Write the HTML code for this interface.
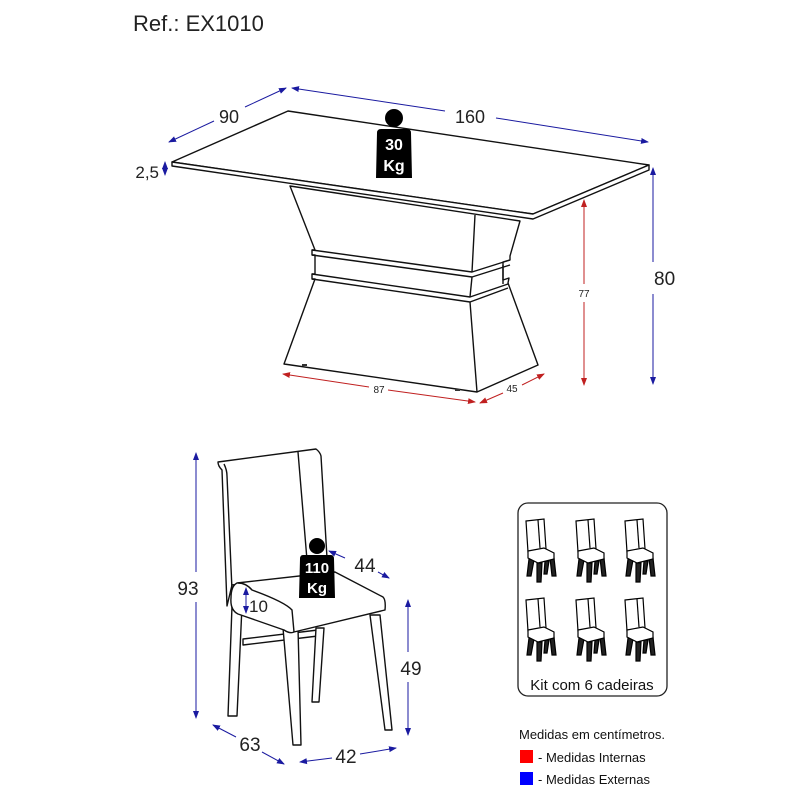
<!DOCTYPE html>
<html><head><meta charset="utf-8"><style>
html,body{margin:0;padding:0;background:#fff;}
svg{display:block;font-family:"Liberation Sans",sans-serif;}
</style></head><body>
<svg width="800" height="800" viewBox="0 0 800 800" xmlns="http://www.w3.org/2000/svg">
<defs>
<marker id="ab" markerWidth="8" markerHeight="8" refX="7" refY="4" orient="auto-start-reverse" markerUnits="userSpaceOnUse"><path d="M0,1 L8,4 L0,7 Z" fill="#1a1aa0"/></marker>
<marker id="ar" markerWidth="8" markerHeight="8" refX="7" refY="4" orient="auto-start-reverse" markerUnits="userSpaceOnUse"><path d="M0,1 L8,4 L0,7 Z" fill="#c02020"/></marker>
<g id="mc" fill="#fff" stroke="#000" stroke-width="1.2">
<path d="M2,2 L20,0 L22,30 L4,33 Z"/>
<path d="M14,1 L16,29"/>
<path d="M5,40 L3,57 L7,57 L10,41 Z" fill="#222"/>
<path d="M13,44 L13,63 L17,63 L18,44 Z" fill="#222"/>
<path d="M26,39 L28,57 L32,57 L30,39 Z" fill="#222"/>
<path d="M21,42 L20,55 L23,55 L25,42 Z" fill="#222"/>
<path d="M4,32 L20,29 L30,34 L30,40 L14,44 L4,39 Z"/>
</g>
</defs>
<text x="133" y="31" font-size="22" fill="#222">Ref.: EX1010</text>

<!-- TABLE -->
<g fill="#fff" stroke="#111" stroke-width="1.4" stroke-linejoin="round">
<path d="M290,186 L315,250 L312,250 L312,255 L315,255 L315,274 L312,274 L312,279 L315,279 L284,364 L477,392 L538,365 L508,283 L509,278 L503,280 L503,262 L510,260 L510,256 L520,221 Z"/>
<path d="M312,250 L472,272 L510,260 M312,255 L472,277 L510,265 M312,274 L470,297 L508,284 M312,279 L470,302 L508,288" fill="none"/>
<path d="M475,215 L472,272 M472,277 L470,297 M503,265 L503,284 M470,302 L477,392" fill="none"/>
<path d="M172,162 L288,111 L649,165 L533,214 Z"/>
<path d="M172,162 L172,166 L533,219 L649,170 L649,165 L533,214 Z"/>
</g>
<g fill="#333"><rect x="302" y="364" width="5" height="2"/><rect x="455" y="389" width="5" height="2"/></g>
<!-- table dims -->
<g stroke="#1a1aa0" stroke-width="1" fill="none">
<line x1="169" y1="142" x2="214" y2="121" marker-start="url(#ab)"/>
<line x1="245" y1="107" x2="286" y2="88" marker-end="url(#ab)"/>
<line x1="292" y1="88" x2="445" y2="111" marker-start="url(#ab)"/>
<line x1="496" y1="118" x2="648" y2="142" marker-end="url(#ab)"/>
<line x1="165" y1="162" x2="165" y2="175" marker-start="url(#ab)" marker-end="url(#ab)"/>
<line x1="653" y1="168" x2="653" y2="262" marker-start="url(#ab)"/>
<line x1="653" y1="294" x2="653" y2="384" marker-end="url(#ab)"/>
</g>
<g stroke="#c02020" stroke-width="1" fill="none">
<line x1="584" y1="200" x2="584" y2="284" marker-start="url(#ar)"/>
<line x1="584" y1="302" x2="584" y2="385" marker-end="url(#ar)"/>
<line x1="283" y1="374" x2="369" y2="387" marker-start="url(#ar)"/>
<line x1="388" y1="390" x2="475" y2="402" marker-end="url(#ar)"/>
<line x1="480" y1="403" x2="503" y2="393" marker-start="url(#ar)"/>
<line x1="522" y1="385" x2="544" y2="374" marker-end="url(#ar)"/>
</g>
<g fill="#222" font-size="18">
<text x="229" y="123" text-anchor="middle">90</text>
<text x="470" y="123" text-anchor="middle">160</text>
<text x="159" y="178" text-anchor="end" font-size="17">2,5</text>
<text x="654" y="285" font-size="19">80</text>
</g>
<g fill="#222" font-size="10" text-anchor="middle">
<text x="584" y="297">77</text>
<text x="379" y="393">87</text>
<text x="512" y="392">45</text>
</g>
<!-- weight 30 -->
<circle cx="394" cy="118" r="9" fill="#000"/>
<path d="M381,129 L407,129 Q411,129 411,133 L412,178 L376,178 L377,133 Q377,129 381,129 Z" fill="#000"/>
<text x="394" y="150" fill="#fff" font-size="16" font-weight="bold" text-anchor="middle">30</text>
<text x="394" y="171" fill="#fff" font-size="16" font-weight="bold" text-anchor="middle">Kg</text>

<!-- CHAIR -->
<g fill="#fff" stroke="#111" stroke-width="1.4" stroke-linejoin="round">
<path d="M218,462 L316,449 Q320,452 321,456 L328,575 L232,585 L227,606 L222,470 Q218,466 218,462 Z"/>
<path d="M298,452 L307,560" fill="none"/>
<path d="M224,464 Q227,470 227,476 L232,590" fill="none"/>
<path d="M243,645 L318,636 L318,630 L243,639 Z"/>
<path d="M232,606 L242,606 L237,716 L228,716 Z"/>
<path d="M316,628 L324,628 L319,702 L312,702 Z"/>
<path d="M370,615 L380,615 L392,730 L385,730 Z"/>
<path d="M283,628 L298,628 L301,745 L293,745 Z"/>
<path d="M237,583 L335,572 L383,597 Q386,600 385,610 L294,632 Q290,634 284,630 L238,614 Q230,610 231,598 Q231,586 237,583 Z"/>
<path d="M238,583 Q246,583 252,590 Q285,602 292,610 L294,632" fill="none"/>
</g>
<g stroke="#1a1aa0" stroke-width="1" fill="none">
<line x1="196" y1="453" x2="196" y2="572" marker-start="url(#ab)"/>
<line x1="196" y1="602" x2="196" y2="718" marker-end="url(#ab)"/>
<line x1="213" y1="725" x2="236" y2="737" marker-start="url(#ab)"/>
<line x1="262" y1="752" x2="284" y2="764" marker-end="url(#ab)"/>
<line x1="300" y1="762" x2="332" y2="758" marker-start="url(#ab)"/>
<line x1="360" y1="754" x2="396" y2="748" marker-end="url(#ab)"/>
<line x1="408" y1="600" x2="408" y2="652" marker-start="url(#ab)"/>
<line x1="408" y1="682" x2="408" y2="735" marker-end="url(#ab)"/>
<line x1="329" y1="551" x2="345" y2="558" marker-start="url(#ab)"/>
<line x1="378" y1="572" x2="389" y2="578" marker-end="url(#ab)"/>
<line x1="246" y1="588" x2="246" y2="613" marker-start="url(#ab)" marker-end="url(#ab)"/>
</g>
<g fill="#222" font-size="19">
<text x="188" y="595" text-anchor="middle">93</text>
<text x="250" y="751" text-anchor="middle">63</text>
<text x="346" y="763" text-anchor="middle">42</text>
<text x="411" y="675" text-anchor="middle">49</text>
<text x="365" y="572" text-anchor="middle">44</text>
<text x="249" y="612" font-size="17">10</text>
</g>
<circle cx="317" cy="546" r="8" fill="#000"/>
<path d="M303,555 L331,555 Q334,555 334,559 L335,598 L299,598 L300,559 Q300,555 303,555 Z" fill="#000"/>
<text x="317" y="573" fill="#fff" font-size="15" font-weight="bold" text-anchor="middle">110</text>
<text x="317" y="593" fill="#fff" font-size="15" font-weight="bold" text-anchor="middle">Kg</text>

<!-- KIT -->
<rect x="518" y="503" width="149" height="193" rx="10" fill="#fff" stroke="#222" stroke-width="1.3"/>
<use href="#mc" x="524" y="519"/><use href="#mc" x="574" y="519"/><use href="#mc" x="623" y="519"/>
<use href="#mc" x="524" y="598"/><use href="#mc" x="574" y="598"/><use href="#mc" x="623" y="598"/>
<text x="592" y="690" font-size="15" fill="#111" text-anchor="middle">Kit com 6 cadeiras</text>

<!-- LEGEND -->
<text x="519" y="739" font-size="13" fill="#111">Medidas em centímetros.</text>
<rect x="520" y="750" width="13" height="13" fill="#f00"/>
<text x="538" y="762" font-size="13" fill="#111">- Medidas Internas</text>
<rect x="520" y="772" width="13" height="13" fill="#00f"/>
<text x="538" y="784" font-size="13" fill="#111">- Medidas Externas</text>
</svg>
</body></html>
